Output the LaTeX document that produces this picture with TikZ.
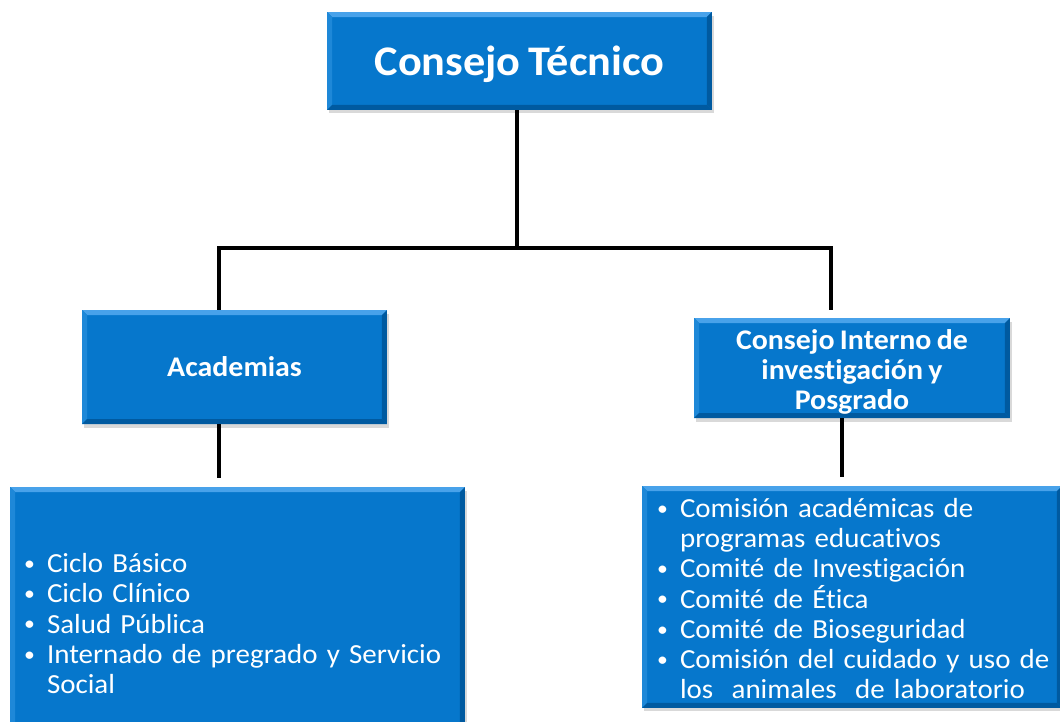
\documentclass[tikz,border=0pt]{standalone}
\usepackage{fontspec}
\setmainfont{Carlito}[FakeStretch=1.05, WordSpace=0.8, Ligatures=NoCommon]
\usetikzlibrary{positioning, shadows}
\definecolor{boxblue}{RGB}{6,119,204}
\definecolor{bevellight}{RGB}{72,162,234}
\definecolor{bevelmid}{RGB}{30,136,216}
\definecolor{beveldark}{RGB}{0,90,160}
% one bullet line of a list, later lines hang under the text
\newcommand{\itm}{\par\lineskiplimit=-20pt\noindent\hangindent=0.46cm\hangafter=1%
  \makebox[0.46cm][l]{\raisebox{1.2pt}{\scalebox{0.75}{•}}}}
\tikzset{
  bevel/.style={path picture={
    \path (path picture bounding box.north west) coordinate (bnw)
          (path picture bounding box.north east) coordinate (bne)
          (path picture bounding box.south west) coordinate (bsw)
          (path picture bounding box.south east) coordinate (bse);
    \fill[bevellight] (bnw) -- (bne) -- ([shift={(-#1,-#1)}]bne) -- ([shift={(#1,-#1)}]bnw) -- cycle;
    \fill[bevelmid] (bnw) -- (bsw) -- ([shift={(#1,#1)}]bsw) -- ([shift={(#1,-#1)}]bnw) -- cycle;
    \fill[beveldark] (bne) -- (bse) -- ([shift={(-#1,#1)}]bse) -- ([shift={(-#1,-#1)}]bne) -- cycle;
    \fill[beveldark] (bsw) -- (bse) -- ([shift={(-#1,#1)}]bse) -- ([shift={(#1,#1)}]bsw) -- cycle;
  }},
  box/.style={fill=boxblue, text=white, align=center, inner sep=0pt,
    bevel=0.1cm,
    drop shadow={shadow xshift=0.04cm, shadow yshift=-0.07cm, opacity=0.3}},
  head/.style={box, font=\bfseries\fontsize{16.2}{17.2}\selectfont},
  listbox/.style={box, align=left, font=\fontsize{15.7}{17.2}\selectfont},
  conn/.style={line width=0.08cm, black},
}

\begin{document}
\begin{tikzpicture}[x=0.02cm, y=-0.02cm]
  \useasboundingbox (0,0) rectangle (1060,721);

  % boxes
  \node[box, font=\bfseries\fontsize{24}{30}\selectfont,
        minimum width=7.7cm, minimum height=1.96cm] (tec) at (519.5,61)
    {\raisebox{-0.06cm}[\height][\depth]{Consejo Técnico}};
  \node[head, minimum width=6.1cm, minimum height=2.28cm] (acad) at (234.5,367) {Academias};
  \node[head, minimum width=6.32cm, minimum height=2cm] (cii) at (852,368)
    {\raisebox{-0.08cm}[\height][\depth]{\parbox{6cm}{\centering\lineskiplimit=-20pt
      Consejo Interno de\\investigación y\\Posgrado}}};
  \node[listbox, text width=8.54cm, inner xsep=0.28cm, minimum height=5.46cm] (lista) at (237.5,623.5)
    {\itm Ciclo Básico
     \itm Ciclo Clínico
     \itm Salud Pública
     \itm \mbox{Internado de pregrado y Servicio}\newline Social\par
     \vspace{0.22cm}};
  \node[listbox, text width=7.8cm, inner xsep=0.3cm, minimum height=4.44cm] (listb) at (852,597)
    {\itm Comisión académicas de\newline programas educativos
     \itm Comité de Investigación
     \itm Comité de Ética
     \itm Comité de Bioseguridad
     \itm \mbox{Comisión del cuidado y uso de}\newline los~ animales~ de laboratorio\par
     \vspace{0.16cm}};

  % connectors
  \coordinate (jl) at (219,248);
  \coordinate (jr) at (831,248);
  \draw[conn] ([xshift=-0.05cm]tec.south) coordinate (ts) -- (ts |- jl);
  \draw[conn, shorten >=0.16cm] (jl |- acad.north) -- (jl) -- (jr) -- (jr |- cii.north);
  \draw[conn, shorten >=0.18cm] (jl |- acad.south) -- (jl |- lista.north);
  \draw[conn, shorten >=0.18cm] ([xshift=-0.2cm]cii.south) coordinate (cs) -- (cs |- listb.north);
\end{tikzpicture}
\end{document}
